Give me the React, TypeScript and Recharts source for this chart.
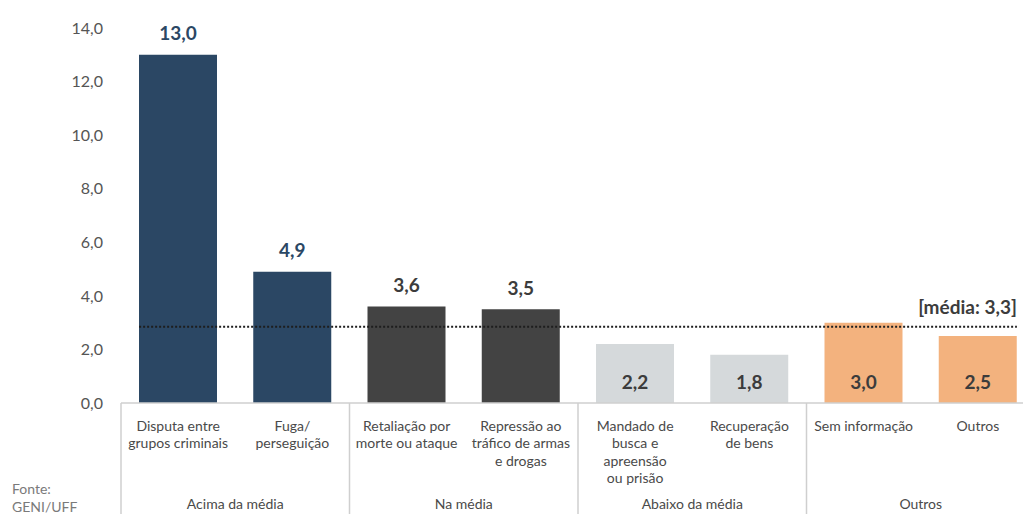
import React from 'react';
import { BarChart, Bar, XAxis, YAxis, Cell, LabelList, ReferenceLine } from 'recharts';

const categorias = [
  'Disputa entre grupos criminais',
  'Fuga/perseguição',
  'Retaliação por morte ou ataque',
  'Repressão ao tráfico de armas e drogas',
  'Mandado de busca e apreensão ou prisão',
  'Recuperação de bens',
  'Sem informação',
  'Outros',
];
const rotulos: string[][] = [
  ['Disputa entre', 'grupos criminais'],
  ['Fuga/', 'perseguição'],
  ['Retaliação por', 'morte ou ataque'],
  ['Repressão ao', 'tráfico de armas', 'e drogas'],
  ['Mandado de', 'busca e', 'apreensão', 'ou prisão'],
  ['Recuperação', 'de bens'],
  ['Sem informação'],
  ['Outros'],
];
const valores = [13.0, 4.9, 3.6, 3.5, 2.2, 1.8, 3.0, 2.5];
const grupos = [
  'Acima da média',
  'Acima da média',
  'Na média',
  'Na média',
  'Abaixo da média',
  'Abaixo da média',
  'Outros',
  'Outros',
];
const yTicks = [0, 2, 4, 6, 8, 10, 12, 14];
const mediaTexto = '[média: 3,3]';
const mediaLinha = 2.85;
const fonte = ['Fonte:', 'GENI/UFF'];

// styles
const corGrupo: Record<string, string> = {
  'Acima da média': '#2B4764',
  'Na média': '#434343',
  'Abaixo da média': '#D5D9DB',
  Outros: '#F3B27E',
};
const corRotuloGrupo: Record<string, string> = {
  'Acima da média': '#2B4764',
  'Na média': '#3C3C3C',
  'Abaixo da média': '#3C3C3C',
  Outros: '#3C3C3C',
};
const rotuloAcima: Record<string, boolean> = {
  'Acima da média': true,
  'Na média': true,
  'Abaixo da média': false,
  Outros: false,
};

const FONT = 'Lato, "Noto Sans", sans-serif';
const CHART_W = 1040;
const CHART_H = 514;
const M = { top: 28, right: 5, left: 0, bottom: 0 };
const Y_W = 121;
const X_H = 111;
const PLOT_W = CHART_W - M.left - M.right - Y_W;
const BAND = PLOT_W / categorias.length;
const BAR = 78;

const data = categorias.map((c, i) => ({ categoria: c, valor: valores[i], grupo: grupos[i] }));

const fmt = (v: number) => v.toFixed(1).replace('.', ',');

const XTick = (props: any) => {
  const { x, y, payload } = props;
  const i = payload.index ?? categorias.indexOf(payload.value);
  const lines = rotulos[i] || [String(payload.value)];
  const first = i === 0 || grupos[i] !== grupos[i - 1];
  return (
    <g>
      {lines.map((l, k) => (
        <text
          key={k}
          x={x}
          y={y + 22 + k * 17.5}
          textAnchor="middle"
          dominantBaseline="central"
          fill="#4a4a4a"
          fontSize={14}
          fontFamily={FONT}
        >
          {l}
        </text>
      ))}
      {first && (
        <>
          <line x1={x - BAND / 2} x2={x - BAND / 2} y1={y} y2={CHART_H} stroke="#cfcfcf" strokeWidth={1.5} />
          <text
            x={x + BAND / 2}
            y={y + 100}
            textAnchor="middle"
            dominantBaseline="central"
            fill="#4a4a4a"
            fontSize={14}
            fontFamily={FONT}
          >
            {grupos[i]}
          </text>
        </>
      )}
    </g>
  );
};

const ValueLabel = (props: any) => {
  const { x, y, width, height, value, index } = props;
  const g = grupos[index];
  const above = rotuloAcima[g];
  const cx = x + width / 2;
  const cy = above ? y - 22 : y + height - 22;
  return (
    <text
      x={cx}
      y={cy}
      textAnchor="middle"
      dominantBaseline="central"
      fill={corRotuloGrupo[g]}
      fontSize={19}
      fontWeight={700}
      fontFamily={FONT}
    >
      {fmt(value)}
    </text>
  );
};

const MediaLine = (props: any) => {
  const { x1, x2, y1, y2 } = props;
  const inset = (BAND - BAR) / 2;
  return (
    <g>
      <line
        x1={x1 + inset}
        x2={x2 - inset}
        y1={y1}
        y2={y2}
        stroke="#1e1e1e"
        strokeWidth={2}
        strokeDasharray="2 2"
      />
      <text
        x={x2 - inset}
        y={y1 - 20}
        textAnchor="end"
        dominantBaseline="central"
        fill="#3C3C3C"
        fontSize={19}
        fontWeight={700}
        fontFamily={FONT}
      >
        {mediaTexto}
      </text>
    </g>
  );
};

export default function App() {
  return (
    <div
      style={{
        position: 'absolute',
        left: 0,
        top: 0,
        width: 1023,
        height: 514,
        overflow: 'hidden',
        background: '#fff',
        fontFamily: FONT,
      }}
    >
      <BarChart width={CHART_W} height={CHART_H} data={data} margin={M}>
        <YAxis
          width={Y_W}
          domain={[0, 14]}
          ticks={yTicks}
          axisLine={false}
          tickLine={false}
          tickSize={0}
          tickMargin={18}
          tickFormatter={(v: number) => fmt(v)}
          tick={{ fill: '#555', fontSize: 16, fontFamily: FONT }}
          interval={0}
        />
        <XAxis
          dataKey="categoria"
          height={X_H}
          interval={0}
          tickLine={false}
          tickSize={0}
          tickMargin={0}
          axisLine={{ stroke: '#cfcfcf', strokeWidth: 1.5 }}
          tick={<XTick />}
        />
        <Bar dataKey="valor" barSize={BAR} isAnimationActive={false}>
          {data.map((d, i) => (
            <Cell key={i} fill={corGrupo[d.grupo]} />
          ))}
          <LabelList dataKey="valor" content={<ValueLabel />} />
        </Bar>
        <ReferenceLine y={mediaLinha} shape={<MediaLine />} />
      </BarChart>
      {fonte.map((t, k) => (
        <div
          key={k}
          style={{
            position: 'absolute',
            left: 12,
            top: 480 + k * 17.5,
            fontSize: 14,
            color: '#7a7a7a',
            fontFamily: FONT,
            lineHeight: '17px',
          }}
        >
          {t}
        </div>
      ))}
    </div>
  );
}
